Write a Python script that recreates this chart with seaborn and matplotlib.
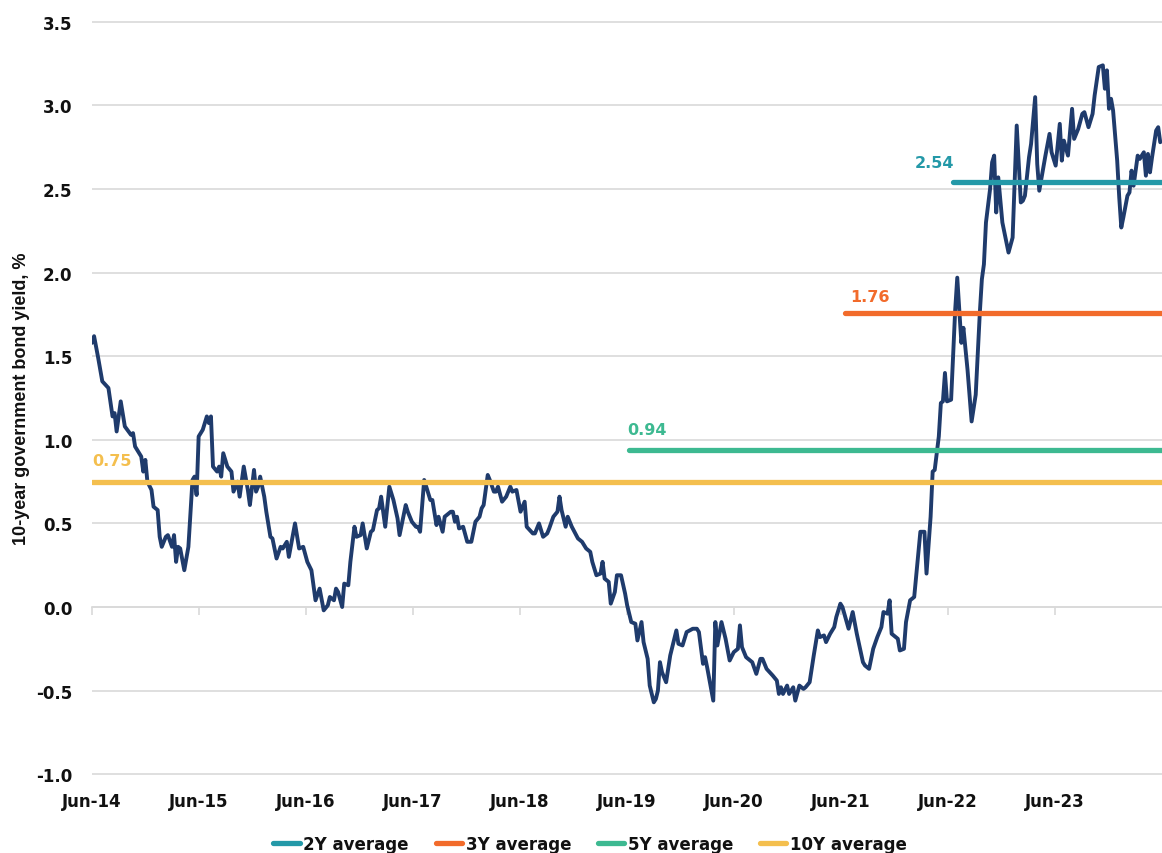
import numpy as np
import pandas as pd
import matplotlib
matplotlib.use("Agg")
import matplotlib.pyplot as plt
import seaborn as sns

# ── Data: weekly 10-year government bond yield, % (weeks counted from Jun-14) ──
START = pd.Timestamp("2014-06-01")
END = pd.Timestamp("2024-06-01")

wk_14 = [0, 1, 3, 5, 8, 10, 11, 12, 14, 16, 19, 20, 21, 24, 25, 26, 27, 29, 30, 32,
         33, 34, 36, 37, 39, 40, 41, 42, 43, 45, 47, 49, 50, 51]
yl_14 = [1.58, 1.62, 1.49, 1.35, 1.31, 1.14, 1.16, 1.05, 1.23, 1.08, 1.03, 1.04, 0.96, 0.90, 0.81, 0.88, 0.75, 0.70, 0.60, 0.58,
         0.42, 0.36, 0.42, 0.43, 0.36, 0.43, 0.27, 0.36, 0.35, 0.22, 0.36, 0.76, 0.78, 0.67]

wk_15 = [52, 54, 56, 57, 58, 59, 61, 62, 63, 64, 66, 68, 69, 71, 72, 74, 76, 77, 79, 80,
         81, 82, 84, 85, 87, 88, 90, 92, 93, 95, 96, 99, 101, 103]
yl_15 = [1.02, 1.06, 1.14, 1.10, 1.14, 0.84, 0.81, 0.84, 0.78, 0.92, 0.84, 0.81, 0.69, 0.75, 0.66, 0.84, 0.70, 0.61, 0.82, 0.69,
         0.72, 0.78, 0.66, 0.57, 0.42, 0.41, 0.29, 0.36, 0.35, 0.39, 0.30, 0.50, 0.35, 0.36]

wk_16 = [105, 107, 109, 111, 113, 115, 116, 118, 119, 120, 122, 123, 125, 126, 128, 129, 131, 132, 134, 136,
         137, 139, 140, 141, 143, 145, 147, 149, 150, 153, 154]
yl_16 = [0.27, 0.22, 0.04, 0.11, -0.02, 0.01, 0.06, 0.04, 0.11, 0.09, 0.00, 0.14, 0.13, 0.27, 0.48, 0.42, 0.43, 0.50, 0.35, 0.45,
         0.46, 0.58, 0.59, 0.66, 0.48, 0.72, 0.64, 0.53, 0.43, 0.61, 0.57]

wk_17 = [156, 158, 159, 160, 162, 163, 165, 166, 168, 169, 171, 172, 175, 176, 177, 178, 179, 181, 183, 185,
         187, 189, 190, 191, 193, 194, 196, 197, 198, 200, 202, 204, 205, 207]
yl_17 = [0.51, 0.48, 0.48, 0.45, 0.76, 0.72, 0.64, 0.64, 0.49, 0.54, 0.45, 0.54, 0.57, 0.57, 0.51, 0.54, 0.47, 0.48, 0.39, 0.39,
         0.51, 0.54, 0.59, 0.61, 0.79, 0.76, 0.69, 0.69, 0.72, 0.63, 0.66, 0.72, 0.69, 0.70]

wk_18 = [209, 211, 212, 215, 216, 218, 220, 222, 223, 225, 227, 228, 229, 231, 232, 234, 237, 239, 241, 243,
         244, 246, 248, 249, 250, 252, 253, 255, 256, 258]
yl_18 = [0.57, 0.63, 0.48, 0.44, 0.44, 0.50, 0.42, 0.44, 0.47, 0.54, 0.57, 0.66, 0.58, 0.48, 0.54, 0.48, 0.41, 0.39, 0.35, 0.33,
         0.27, 0.19, 0.20, 0.27, 0.17, 0.15, 0.02, 0.09, 0.19, 0.19]

wk_19 = [260, 261, 263, 265, 266, 268, 269, 271, 272, 274, 275, 276, 277, 278, 280, 282, 283, 285, 286, 288,
         290, 293, 295, 296, 298, 299, 300, 303, 304, 305, 307, 309, 311]
yl_19 = [0.08, 0.01, -0.09, -0.10, -0.20, -0.09, -0.21, -0.31, -0.47, -0.57, -0.55, -0.50, -0.33, -0.39, -0.45, -0.29, -0.24, -0.14, -0.22, -0.23,
         -0.15, -0.13, -0.13, -0.15, -0.34, -0.30, -0.36, -0.56, -0.09, -0.23, -0.09, -0.19, -0.32]

wk_20 = [313, 315, 316, 317, 319, 321, 322, 324, 326, 327, 329, 332, 334, 335, 336, 337, 339, 340, 342, 343,
         345, 347, 348, 350, 352, 354, 355, 357, 358, 360, 362, 363]
yl_20 = [-0.27, -0.25, -0.11, -0.24, -0.30, -0.32, -0.33, -0.40, -0.31, -0.31, -0.37, -0.41, -0.44, -0.52, -0.48, -0.52, -0.47, -0.52, -0.48, -0.56,
         -0.47, -0.49, -0.48, -0.45, -0.29, -0.14, -0.18, -0.17, -0.21, -0.16, -0.12, -0.06]

wk_21 = [365, 366, 369, 371, 373, 376, 377, 379, 381, 383, 385, 386, 388, 389, 390, 393, 394, 396, 397, 399,
         401, 404, 406, 407, 409, 410, 411, 413, 414, 415]
yl_21 = [0.02, 0.00, -0.13, -0.03, -0.16, -0.33, -0.35, -0.37, -0.25, -0.18, -0.12, -0.03, -0.04, 0.04, -0.16, -0.19, -0.26, -0.25, -0.09, 0.04,
         0.06, 0.45, 0.45, 0.20, 0.54, 0.81, 0.82, 1.02, 1.22, 1.23]

wk_22 = [416, 417, 419, 421, 422, 424, 425, 427, 429, 431, 433, 434, 435, 436, 438, 439, 440, 441, 442, 444,
         447, 449, 451, 453, 454, 455, 457, 458, 460, 461, 462, 464, 465, 467]
yl_22 = [1.40, 1.23, 1.24, 1.78, 1.97, 1.58, 1.67, 1.42, 1.11, 1.27, 1.76, 1.96, 2.05, 2.30, 2.50, 2.66, 2.70, 2.36, 2.57, 2.30,
         2.12, 2.21, 2.88, 2.42, 2.43, 2.46, 2.69, 2.77, 3.05, 2.65, 2.49, 2.63, 2.70, 2.83]

wk_23 = [468, 470, 472, 473, 474, 476, 478, 479, 481, 483, 484, 486, 488, 489, 491, 493, 494, 495, 496, 497,
         498, 500, 501, 502, 503, 505, 506, 507, 508, 510, 511, 513, 514, 515, 516, 517, 519, 520, 521]
yl_23 = [2.72, 2.64, 2.89, 2.67, 2.79, 2.70, 2.98, 2.80, 2.86, 2.95, 2.96, 2.87, 2.95, 3.06, 3.23, 3.24, 3.10, 3.21, 2.98, 3.04,
         2.97, 2.67, 2.45, 2.27, 2.33, 2.46, 2.48, 2.61, 2.52, 2.70, 2.68, 2.72, 2.58, 2.71, 2.60, 2.69, 2.85, 2.87, 2.78]

# Period averages
avg_names = ["2Y average", "3Y average", "5Y average", "10Y average"]
avg_values = [2.54, 1.76, 0.94, 0.75]
avg_start = ["2022-06-18", "2021-06-15", "2019-06-08", "2014-06-01"]

tick_labels = ["Jun-14", "Jun-15", "Jun-16", "Jun-17", "Jun-18",
               "Jun-19", "Jun-20", "Jun-21", "Jun-22", "Jun-23"]

# ── Styling ───────────────────────────────────────────────────────────────────
NAVY = "#1F3B6C"
GRID = "#D9D9D9"
TXT = "#111111"
avg_colors = ["#2499A8", "#F26B2B", "#3DB991", "#F4BF4E"]
label_ha = ["right", "left", "left", "left"]
label_dx = [1, 4, -1, 0]
label_dy = [14, 12, 15, 15]

sns.set_style("white")
plt.rcParams["font.family"] = ["DejaVu Sans"]

weeks = wk_14 + wk_15 + wk_16 + wk_17 + wk_18 + wk_19 + wk_20 + wk_21 + wk_22 + wk_23
ylds = yl_14 + yl_15 + yl_16 + yl_17 + yl_18 + yl_19 + yl_20 + yl_21 + yl_22 + yl_23
df = pd.DataFrame({
    "date": START + pd.to_timedelta(np.array(weeks) * 7, unit="D"),
    "yield": ylds,
})

avg_df = pd.DataFrame({
    "name": avg_names * 2,
    "date": pd.to_datetime(avg_start + [END.strftime("%Y-%m-%d")] * 4),
    "value": avg_values * 2,
})

fig = plt.figure(figsize=(11.62, 8.54), dpi=100)
ax = fig.add_axes([0.0792, 0.0913, 0.9208, 0.8829])

sns.lineplot(data=df, x="date", y="yield", color=NAVY, lw=2.8, ax=ax,
             zorder=2, legend=False)
sns.lineplot(data=avg_df, x="date", y="value", hue="name", hue_order=avg_names,
             palette=dict(zip(avg_names, avg_colors)), lw=3.8, ax=ax,
             errorbar=None, zorder=3)

for name, v, s, c, ha, dx, dy in zip(avg_names, avg_values, avg_start, avg_colors,
                                      label_ha, label_dx, label_dy):
    ax.annotate(f"{v:.2f}", xy=(pd.Timestamp(s), v), xytext=(dx, dy),
                textcoords="offset points", ha=ha, va="center",
                color=c, fontsize=11.5, fontweight="bold")

# ── Axes ──────────────────────────────────────────────────────────────────────
ax.set_xlim(START, END)
ax.set_ylim(-1.005, 3.505)
ax.set_yticks(np.arange(-1.0, 3.51, 0.5))
ax.yaxis.set_major_formatter(matplotlib.ticker.FormatStrFormatter("%.1f"))
tick_dates = pd.to_datetime([f"20{t[-2:]}-06-01" for t in tick_labels])
ax.set_xticks(tick_dates)
ax.set_xticklabels(tick_labels)
for lab in ax.get_xticklabels() + ax.get_yticklabels():
    lab.set_fontweight("bold")
    lab.set_fontsize(12)
    lab.set_color(TXT)
ax.tick_params(axis="both", length=0)
ax.tick_params(axis="x", pad=12)
ax.tick_params(axis="y", pad=14)
ax.grid(axis="y", color=GRID, lw=1.2)
ax.grid(axis="x", visible=False)
for sp in ax.spines.values():
    sp.set_visible(False)

# zero line with tick marks
sec = ax.secondary_xaxis(0.0, transform=ax.transData)
sec.set_xticks(tick_dates)
sec.set_xticklabels([])
sec.tick_params(axis="x", direction="out", length=6, width=1.2, color=GRID)
sec.spines["bottom"].set_color(GRID)
sec.spines["bottom"].set_linewidth(1.2)

ax.set_xlabel("")
ax.set_ylabel("10-year government bond yield, %", fontsize=13, fontweight="bold",
              color=TXT,
              family=["Liberation Sans Narrow", "Liberation Sans", "DejaVu Sans"])
ax.yaxis.set_label_coords(-0.058, 0.5)

sns.move_legend(ax, "center", bbox_to_anchor=(0.4654, -0.0915), ncol=4,
                frameon=False, title=None, handlelength=1.6, handletextpad=0.2,
                columnspacing=1.6, prop={"weight": "bold", "size": 12})
for t in ax.get_legend().get_texts():
    t.set_color(TXT)

fig.savefig("out.png", dpi=100)
